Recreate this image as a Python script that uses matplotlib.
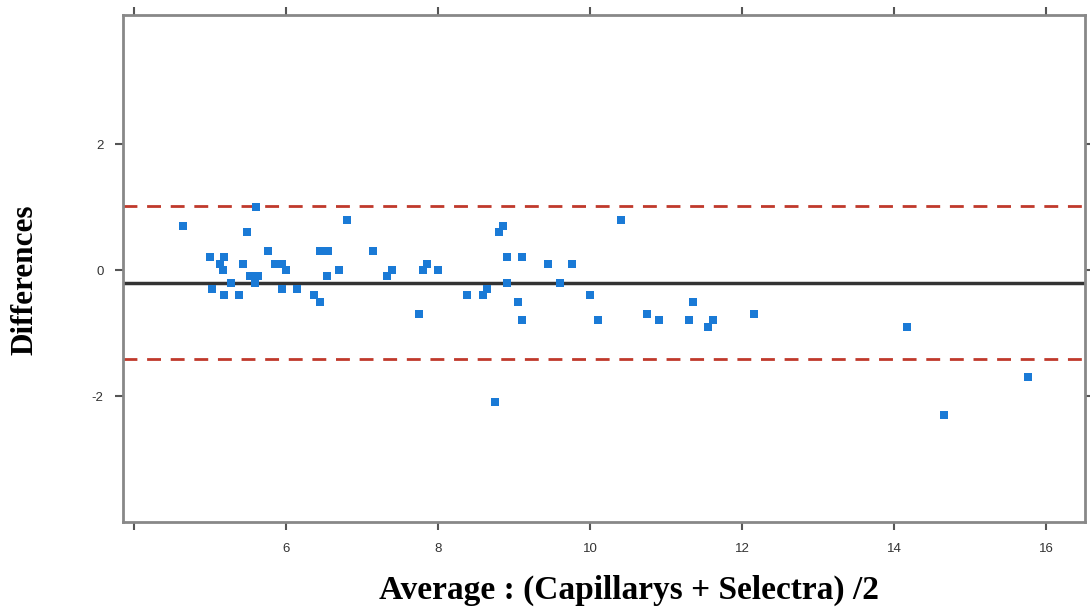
import matplotlib.pyplot as plt

plt.rcParams["axes.unicode_minus"] = False

# Bland-Altman: averages and differences
avg = [4.65, 5.00, 5.03, 5.13, 5.17, 5.18, 5.18, 5.28, 5.38, 5.43,
       5.49, 5.53, 5.59, 5.60, 5.63, 5.76, 5.86, 5.95, 5.95, 6.00,
       6.14, 6.37, 6.45, 6.45, 6.55, 6.54, 6.70, 6.80, 7.14, 7.33,
       7.39, 7.75, 7.80, 7.86, 8.00, 8.38, 8.59, 8.64, 8.75, 8.80,
       8.86, 8.91, 8.91, 9.05, 9.10, 9.10, 9.45, 9.61, 9.76, 10.00,
       10.10, 10.41, 10.75, 10.91, 11.30, 11.36, 11.55, 11.62, 12.16, 14.17,
       14.66, 15.76]
diff = [0.7, 0.2, -0.3, 0.1, 0.0, 0.2, -0.4, -0.2, -0.4, 0.1,
        0.6, -0.1, -0.2, 1.0, -0.1, 0.3, 0.1, 0.1, -0.3, 0.0,
        -0.3, -0.4, -0.5, 0.3, 0.3, -0.1, 0.0, 0.8, 0.3, -0.1,
        0.0, -0.7, 0.0, 0.1, 0.0, -0.4, -0.4, -0.3, -2.1, 0.6,
        0.7, 0.2, -0.2, -0.5, 0.2, -0.8, 0.1, -0.2, 0.1, -0.4,
        -0.8, 0.8, -0.7, -0.8, -0.8, -0.5, -0.9, -0.8, -0.7, -0.9,
        -2.3, -1.7]
mean_diff = -0.2
upper_loa = 1.02
lower_loa = -1.42
x_ticks = [4, 6, 8, 10, 12, 14, 16]
x_labels = ["", "6", "8", "10", "12", "14", "16"]
y_ticks = [-2, 0, 2]

fig = plt.figure(figsize=(10.9, 6.09), dpi=100)
ax = fig.add_axes([0.1128, 0.1429, 0.8826, 0.8325])

ax.axhline(upper_loa, color="#c0392b", lw=2, ls=(0, (5, 3.5)), zorder=1)
ax.axhline(lower_loa, color="#c0392b", lw=2, ls=(0, (5, 3.5)), zorder=1)
ax.axhline(mean_diff, color="#333333", lw=2.5, zorder=1)
ax.scatter(avg, diff, marker="s", s=40, color="#1a7ad6", linewidths=0, zorder=2)

ax.set_xlim(3.855, 16.51)
ax.set_ylim(-4.0, 4.05)
ax.set_xticks(x_ticks)
ax.set_xticklabels(x_labels)
ax.set_yticks(y_ticks)
ax.tick_params(axis="both", direction="out", length=6, width=1.5, color="#555555",
               labelsize=9.5, labelcolor="#333333", top=True, right=True)
for lbl in ax.get_xticklabels() + ax.get_yticklabels():
    lbl.set_family("Liberation Sans")
ax.tick_params(axis="x", pad=9)
ax.tick_params(axis="y", pad=8)
for s in ax.spines.values():
    s.set_color("#888888")
    s.set_linewidth(2)

fig.text(629 / 1090, 1 - 590 / 609, "Average : (Capillarys + Selectra) /2",
         family="Liberation Serif", fontweight="bold", fontsize=24,
         ha="center", va="center")
fig.text(25 / 1090, 1 - 280 / 609, "Differences", family="Liberation Serif",
         fontweight="bold", fontsize=22.5, rotation=90, ha="center", va="center")

fig.savefig("out.png", dpi=100)
